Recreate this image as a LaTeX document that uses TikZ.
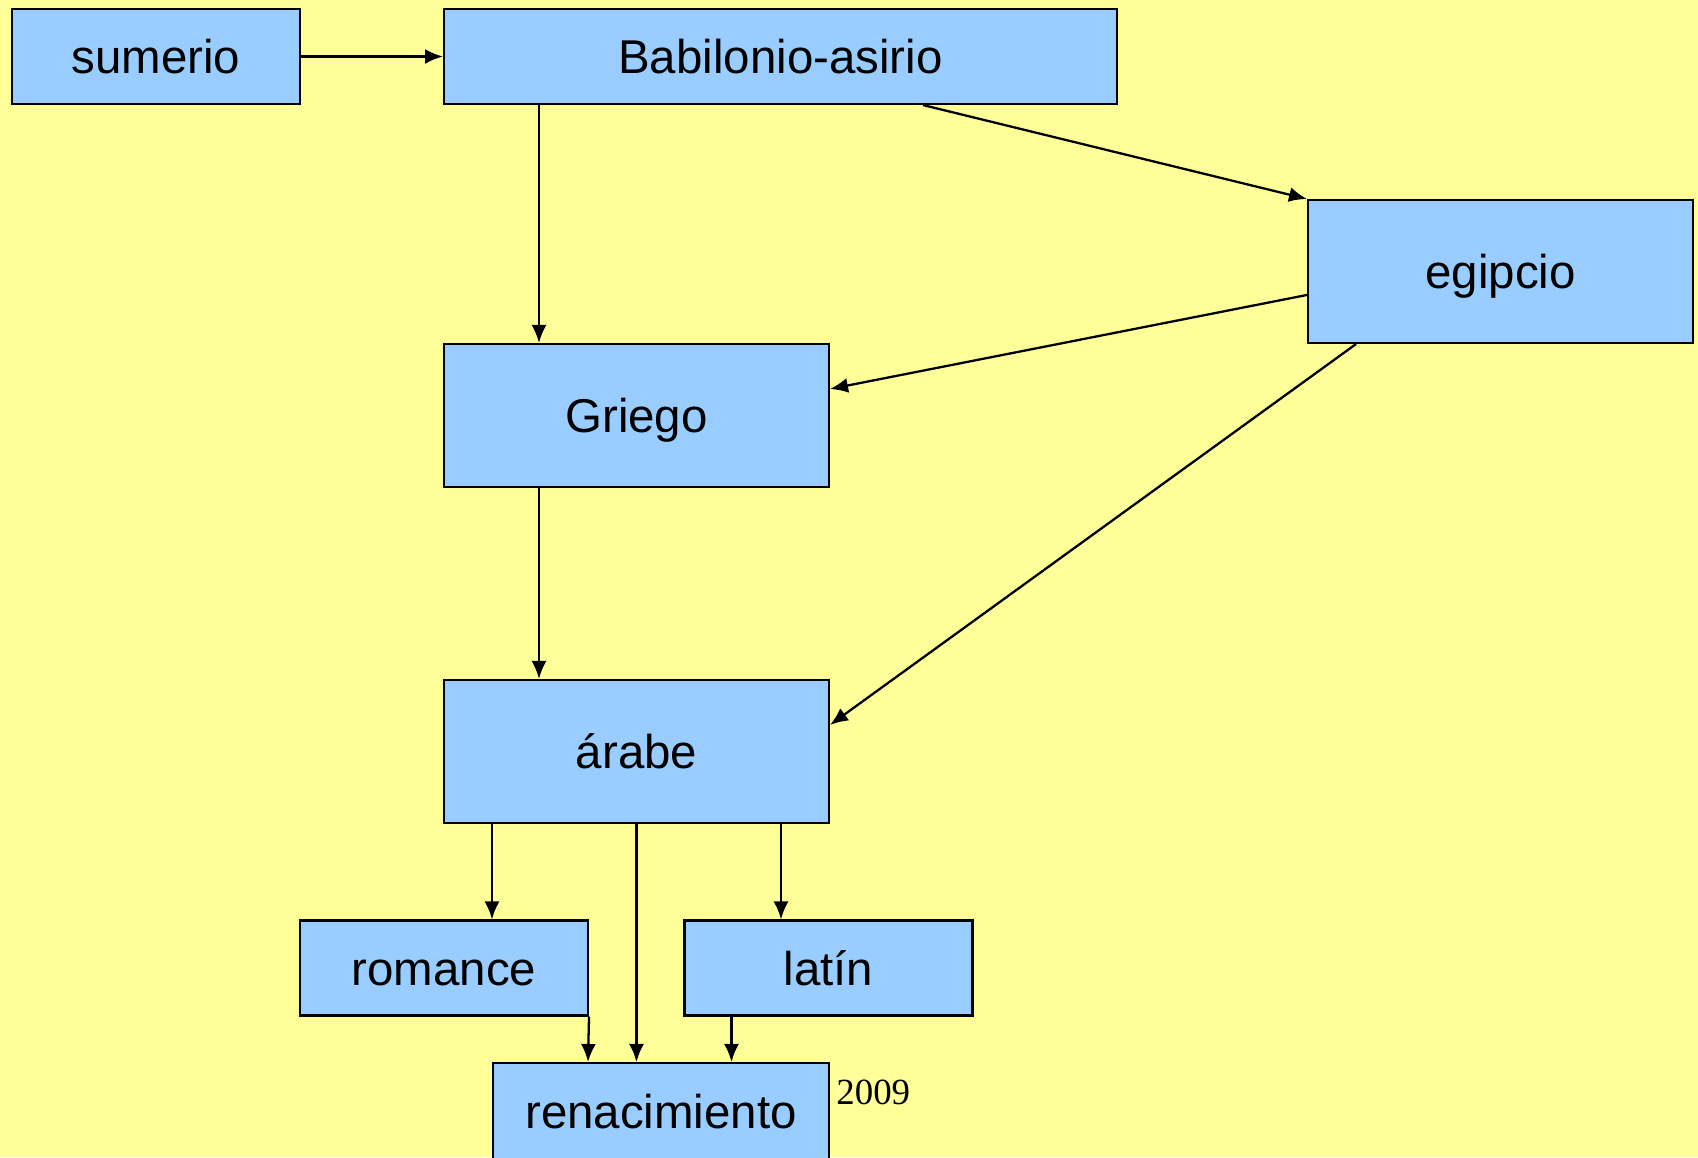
\documentclass[tikz,border=0pt]{standalone}
\usepackage{fontspec}
\setmainfont{Liberation Sans}
\newfontfamily\yearfont{Liberation Serif}
\usetikzlibrary{arrows.meta,calc,positioning}
\definecolor{paper}{HTML}{FFFF99}
\definecolor{boxblue}{HTML}{99CCFF}
\tikzset{langbox/.style={
            draw,
            fill=boxblue,
            line width=1.2pt,
            inner sep=0pt,
            text height=19.5pt,
            text depth=0pt,
            font=\fontsize{27}{32}\selectfont
        },
        smallbox/.style={
            langbox,
            minimum width=5.76cm,
            minimum height=1.9cm
        },
        bigbox/.style={
            langbox,
            minimum width=7.7cm,
            minimum height=2.86cm
        },
        link/.style={
            -{Latex[length=0.36cm,width=0.3cm]},
            line width=1.3pt
        }
    }
\begin{document}
\begin{tikzpicture}[x=0.02cm,y=-0.02cm]
        \fill[paper] (0,0) rectangle (1698,1157);
        \useasboundingbox (0,0) rectangle (1698,1157);
        \node[smallbox] (sumerio) at (156,56.5) {sumerio};
        \node[langbox,minimum width=13.46cm,minimum height=1.9cm] (babilonio) at (780.5,56.5) {Babilonio-asirio};
        \node[bigbox] (egipcio) at (1500.5,271.5) {egipcio};
        \node[bigbox] (griego) at (636.5,415.5) {Griego};
        \node[bigbox] (arabe) at (636.5,751.5) {árabe};
        \node[smallbox] (romance) at (444,968) {romance};
        \node[smallbox] (latin) at (828.5,968) {latín};
        \node[langbox,minimum width=6.72cm,minimum height=1.92cm] (renacimiento) at (661,1111) {renacimiento};
        \node[font=\yearfont\fontsize{21}{25}\selectfont,anchor=west,inner sep=0pt] (year) at (836,1092) {2009};
        \coordinate (g1) at ($(griego.north west)+(96,0)$);
        \coordinate (a1) at ($(arabe.south west)+(49,0)$);
        \coordinate (a3) at ($(arabe.south east)+(-49,0)$);
        \coordinate (l1) at ($(latin.south west)+(48,0)$);
        \draw[link] (sumerio) -- (babilonio);
        \draw[link] (babilonio.south -| g1) -- (g1);
        \draw[link] ($(babilonio.south west)+(480,0)$) -- (egipcio.north west);
        \draw[link] ($(egipcio.north west)+(0,96)$) -- ($(griego.north east)+(0,46)$);
        \draw[link] ($(egipcio.south west)+(49,0)$) -- ($(arabe.north east)+(0,46)$);
        \draw[link] (griego.south -| g1) -- (arabe.north -| g1);
        \draw[link] (a1) -- (a1 |- romance.north);
        \draw[link] (arabe.south) -- (arabe.south |- renacimiento.north);
        \draw[link] (a3) -- (a3 |- latin.north);
        \draw[link] (romance.south east) -- ($(renacimiento.north west)+(96,0)$);
        \draw[link] (l1) -- (l1 |- renacimiento.north);
    \end{tikzpicture}
\end{document}
